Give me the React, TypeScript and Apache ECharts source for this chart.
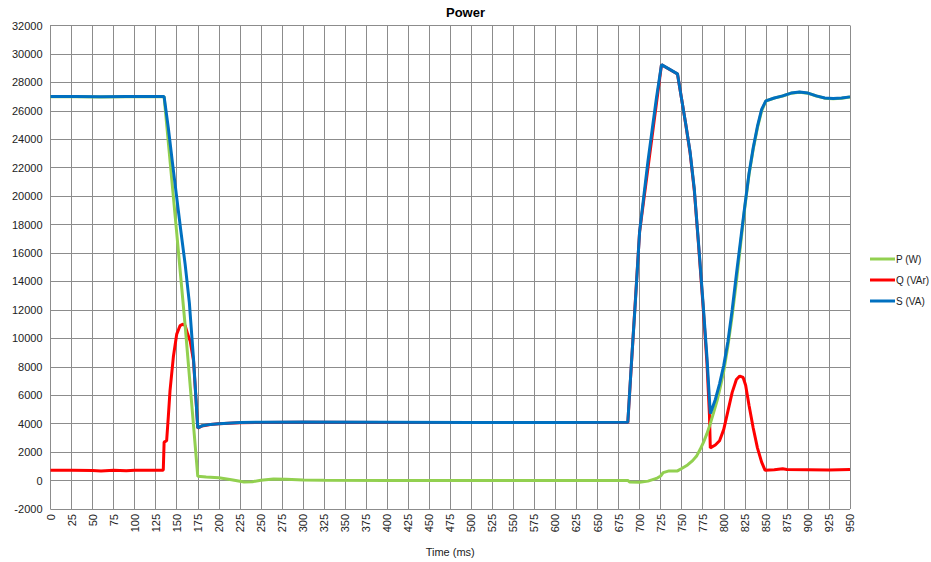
import React, { useEffect, useRef } from "react";
import * as echarts from "echarts";

const chartTitle = "Power";
const xAxisTitle = "Time (ms)";
const seriesNames = ["P (W)", "Q (VAr)", "S (VA)"];
const seriesColors = ["#92D050", "#FF0000", "#0070C0"];

const timeP = [0, 30, 60, 90, 120, 135, 150, 160, 175, 185, 200, 215, 230, 240, 250, 265, 280, 300, 325, 400, 500, 600, 686, 688, 700, 710, 720, 725, 728, 735, 745, 750, 757, 763, 768, 772, 776, 780, 784, 788, 792, 796, 800, 805, 810, 815, 820, 825, 830, 835, 840, 845, 850, 860, 870, 880, 890, 900, 910, 920, 930, 940, 950];
const valuesP = [26990, 26990, 26980, 26990, 26990, 26990, 17400, 10900, 300, 250, 200, 60, -100, -80, 20, 110, 90, 40, 20, 10, 10, 10, 10, -100, -120, -40, 150, 320, 560, 680, 680, 850, 1100, 1400, 1750, 2200, 2700, 3300, 4000, 4800, 5600, 6600, 7700, 9500, 11600, 14000, 16600, 19200, 21500, 23300, 24800, 26000, 26690, 26890, 27040, 27240, 27310, 27240, 27040, 26890, 26850, 26890, 26970];

const timeQ = [0, 25, 50, 60, 75, 90, 100, 125, 134, 135, 138, 140, 142, 146, 150, 154, 157.5, 160, 163, 166, 170, 175, 180, 190, 200, 225, 250, 300, 400, 500, 600, 686, 700, 726, 745, 750, 755, 760, 765, 770, 775, 780, 783, 784, 790, 795, 800, 805, 810, 815, 819, 823, 826, 830, 835, 840, 845, 849, 860, 870, 875, 900, 925, 950];
const valuesQ = [720, 720, 700, 680, 720, 690, 720, 720, 720, 2700, 2800, 4500, 6300, 8700, 10300, 10900, 11000, 10900, 10300, 9800, 8400, 3690, 3840, 3940, 3990, 4070, 4090, 4100, 4090, 4080, 4080, 4090, 17490, 29240, 28590, 26790, 24990, 23040, 20390, 16600, 12600, 8300, 4600, 2300, 2500, 2800, 3600, 4900, 6200, 7100, 7350, 7250, 6700, 5300, 3700, 2300, 1300, 730, 760, 830, 780, 760, 740, 780];

const timeS = [0, 30, 60, 90, 120, 135, 140, 145, 150, 155, 160, 165, 170, 175, 180, 190, 200, 225, 250, 300, 400, 500, 600, 686, 690, 695, 700, 705, 710, 715, 720, 726, 745, 750, 755, 760, 765, 770, 775, 780, 784, 790, 795, 800, 805, 810, 815, 820, 825, 830, 835, 840, 845, 850, 860, 870, 880, 890, 900, 910, 920, 930, 940, 950];
const valuesS = [27000, 27000, 26990, 27000, 27000, 27000, 24800, 22300, 19900, 17500, 15200, 12500, 8500, 3700, 3850, 3950, 4000, 4080, 4100, 4110, 4100, 4090, 4090, 4100, 8000, 12600, 17500, 20000, 22500, 24700, 26900, 29250, 28600, 26800, 25000, 23100, 20500, 16700, 12800, 8700, 4700, 5700, 6800, 8100, 9800, 12000, 14500, 16900, 19300, 21600, 23400, 24900, 26100, 26700, 26900, 27050, 27250, 27320, 27250, 27050, 26900, 26860, 26900, 26980];

const yTicks = { min: -2000, max: 32000, interval: 2000 };
const xTicks = { min: 0, max: 950, interval: 25 };

const pairs = (t: number[], v: number[]) => t.map((x, i) => [x, v[i]]);

export default function App() {
  const ref = useRef<HTMLDivElement>(null);
  useEffect(() => {
    if (!ref.current) return;
    const chart = echarts.init(ref.current, undefined, { renderer: "svg" });
    const font = "'Liberation Sans', Arial, sans-serif";
    const gridColor = "#8c8c8c";
    const mk = (idx: number, t: number[], v: number[], z: number) => ({
      name: seriesNames[idx],
      type: "line",
      data: pairs(t, v),
      showSymbol: false,
      symbol: "none",
      smooth: false,
      z,
      lineStyle: { color: seriesColors[idx], width: 3 },
      itemStyle: { color: seriesColors[idx] },
    });
    chart.setOption({
      animation: false,
      textStyle: { fontFamily: font },
      title: {
        text: chartTitle,
        left: "center",
        top: 1,
        textStyle: { fontSize: 13, fontWeight: "bold", color: "#000", fontFamily: font },
      },
      legend: {
        orient: "vertical",
        left: 865,
        top: 249,
        itemWidth: 25,
        itemHeight: 3,
        itemGap: 11,
        icon: "rect",
        data: seriesNames,
        textStyle: { fontSize: 10, color: "#222", fontFamily: font, padding: [0, 0, 0, -4] },
      },
      grid: { left: 50.5, right: 81, top: 25.5, bottom: 48.5, containLabel: false },
      xAxis: {
        type: "value",
        min: xTicks.min,
        max: xTicks.max,
        interval: xTicks.interval,
        name: xAxisTitle,
        nameLocation: "middle",
        nameGap: 37,
        nameTextStyle: { fontSize: 11, color: "#222", fontFamily: font },
        axisLine: { show: true, lineStyle: { color: gridColor } },
        axisTick: { show: false },
        axisLabel: { rotate: 90, fontSize: 11, color: "#222", margin: 5, fontFamily: font },
        splitLine: { show: true, lineStyle: { color: gridColor, width: 1 } },
      },
      yAxis: {
        type: "value",
        min: yTicks.min,
        max: yTicks.max,
        interval: yTicks.interval,
        axisLine: { show: true, lineStyle: { color: gridColor } },
        axisTick: { show: false },
        axisLabel: { fontSize: 11, color: "#222", margin: 8, fontFamily: font, formatter: (v: number) => String(v) },
        splitLine: { show: true, lineStyle: { color: gridColor, width: 1 } },
      },
      series: [
        mk(0, timeP, valuesP, 3),
        mk(1, timeQ, valuesQ, 2),
        mk(2, timeS, valuesS, 4),
      ],
    });
    return () => chart.dispose();
  }, []);
  return <div ref={ref} style={{ width: 931, height: 562, position: "absolute", left: 0, top: 0 }} />;
}
